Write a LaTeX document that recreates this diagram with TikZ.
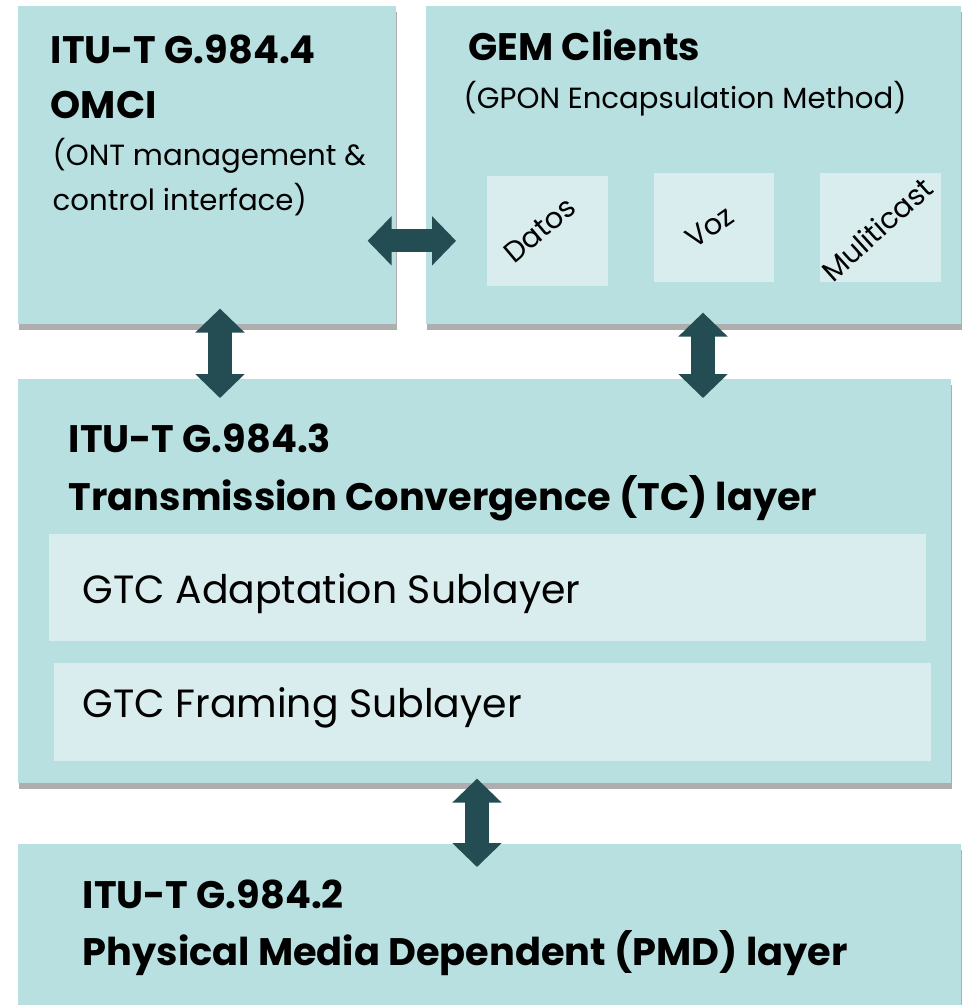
\documentclass[tikz,border=0pt]{standalone}
\usepackage{fontspec}
\setmainfont{Poppins}
\usetikzlibrary{arrows.meta, shadows}
\definecolor{boxfill}{RGB}{185,224,225}
\definecolor{subfill}{RGB}{218,237,238}
\definecolor{arrowcol}{RGB}{35,77,82}
\tikzstyle{layer} = [fill=boxfill,inner sep=0,anchor=north west,drop shadow={shadow xshift=0.01cm,shadow yshift=-0.06cm,opacity=0.45,fill=black!70}]
\tikzstyle{sublayer} = [fill=subfill,inner sep=0,anchor=north west]
\tikzstyle{head} = [anchor=base west,inner sep=0,font=\bfseries\fontsize{10.9}{13}\selectfont]
\tikzstyle{note} = [anchor=base west,inner sep=0,font=\fontsize{8.3}{10}\selectfont]
\tikzstyle{sub} = [anchor=base west,inner sep=0,font=\fontsize{11.2}{13}\selectfont]
\tikzstyle{tag} = [inner sep=0,font=\fontsize{8.2}{10}\selectfont]
\tikzstyle{link} = [line width=0.23cm,draw=arrowcol,{Triangle[width=0.48cm,length=0.24cm]}-{Triangle[width=0.48cm,length=0.24cm]}]

\begin{document}
\begin{tikzpicture}[x=0.01cm,y=-0.01cm]
\useasboundingbox (0,0) rectangle (965,1005);

\node [layer,minimum width=3.78cm,minimum height=3.18cm](omci) at (17,5) {};
\node [layer,minimum width=5.35cm,minimum height=3.18cm](gem) at (425,5) {};
\node [layer,minimum width=9.33cm,minimum height=4.04cm](tc) at (17,378) {};
\node [layer,minimum width=9.43cm,minimum height=1.70cm](pmd) at (17,843) {};

\node [sublayer,minimum width=1.21cm,minimum height=1.10cm](datos) at (486,175) {};
\node [sublayer,minimum width=1.20cm,minimum height=1.09cm](voz) at (653,172) {};
\node [sublayer,minimum width=1.21cm,minimum height=1.09cm](multi) at (819,172) {};
\node [sublayer,minimum width=8.77cm,minimum height=1.07cm](adapt) at (48,533) {};
\node [sublayer,minimum width=8.77cm,minimum height=0.98cm](framing) at (53,662) {};

\node [head](omcia) at (50,63) {ITU-T G.984.4};
\node [head](omcib) at (50,118) {OMCI};
\node [note](omcic) at (52,165) {(ONT management \&};
\node [note](omcid) at (52,210) {control interface)};

\node [head](gema) at (468,60) {GEM Clients};
\node [note](gemb) at (463,108) {(GPON Encapsulation Method)};
\node [tag,rotate=40](datost) at (540,230) {Datos};
\node [tag,rotate=35](vozt) at (710,227) {Voz};
\node [tag,rotate=42](multit) at (877,229) {Muliticast};

\node [head](tca) at (68,452) {ITU-T G.984.3};
\node [head](tcb) at (68,510) {Transmission Convergence (TC) layer};
\node [sub](adaptt) at (82,603) {GTC Adaptation Sublayer};
\node [sub](framingt) at (82,717) {GTC Framing Sublayer};

\node [head](pmda) at (82,908) {ITU-T G.984.2};
\node [head](pmdb) at (82,965) {Physical Media Dependent (PMD) layer};

\draw [link] ([xshift=-0.29cm,yshift=-0.76cm]omci.east) -- ([xshift=0.31cm,yshift=-0.76cm]gem.west);
\draw [link] (omci.south -| 220,0) ++(0,-16) -- ([yshift=-0.20cm]tc.north -| 220,0);
\draw [link] (gem.south -| 703,0) ++(0,-12) -- ([yshift=-0.20cm]tc.north -| 703,0);
\draw [link] (tc.south -| 477,0) ++(0,-5) -- ([yshift=-0.24cm]pmd.north -| 477,0);
\end{tikzpicture}
\end{document}
